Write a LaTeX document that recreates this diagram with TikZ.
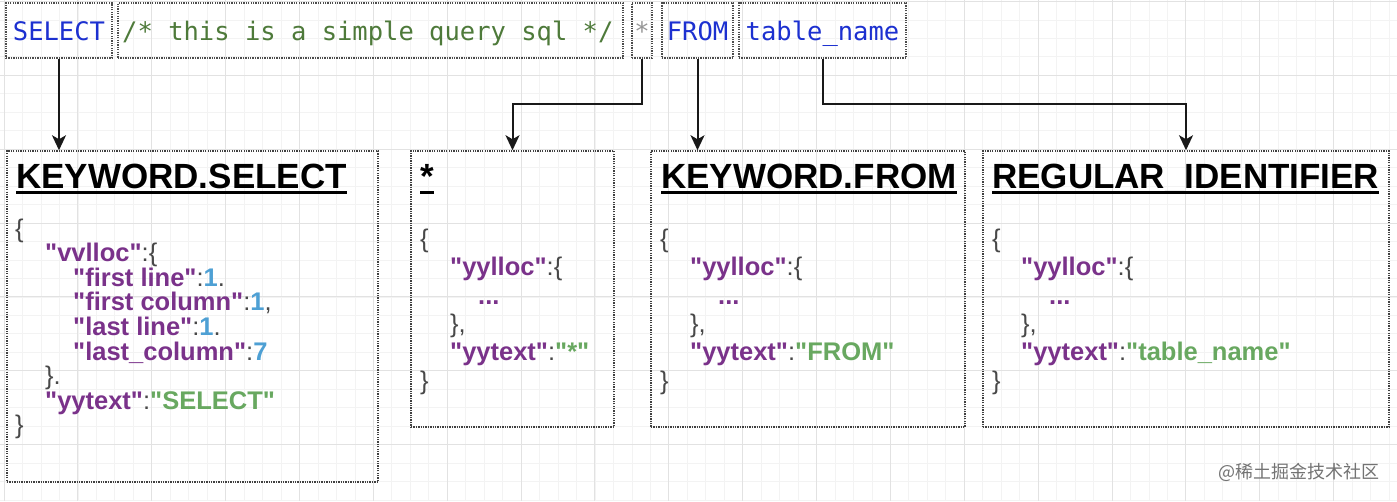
\documentclass[tikz,border=0pt]{standalone}
\usepackage{fontspec}
\setmainfont{Liberation Sans}
\setmonofont{DejaVu Sans Mono}
\newfontfamily\jsonfont{Liberation Sans}
\newfontfamily\cjk{Noto Sans CJK SC}
\usetikzlibrary{arrows.meta}
\definecolor{keyc}{RGB}{122,50,138}
\definecolor{strc}{RGB}{104,168,96}
\definecolor{numc}{RGB}{78,160,212}
\definecolor{punc}{RGB}{72,72,72}
\definecolor{selc}{RGB}{28,48,208}
\definecolor{cmtc}{RGB}{78,122,58}
\definecolor{starc}{RGB}{150,150,150}
\definecolor{gmaj}{RGB}{226,226,226}
\definecolor{gmin}{RGB}{243,243,243}
\newcommand\us{\char"5F\relax}
\newcommand\qq{\char"22\relax}
\newcommand\jkey[1]{\textcolor{keyc}{\qq#1\qq}}
\newcommand\jpun[1]{\textcolor{punc}{\mdseries #1}}
\newcommand\jnum[1]{\textcolor{numc}{#1}}
\newcommand\jstr[1]{\textcolor{strc}{\qq#1\qq}}
\begin{document}
\begin{tikzpicture}[x=1pt,y=-1pt,
  tbox/.style={draw=black!70, dash pattern=on 1.3pt off 1.1pt, line width=1.4pt, inner sep=0},
  dbox/.style={draw=black!75, dash pattern=on 1.3pt off 1.1pt, line width=1.5pt, inner sep=0},
  tt/.style={font=\ttfamily\fontsize{25.5}{25.5}\selectfont, inner sep=0, anchor=base},
  ttl/.style={font=\bfseries\fontsize{35}{35}\selectfont, inner sep=0, anchor=base west},
  ln/.style={font=\jsonfont\bfseries\fontsize{25.5}{25.5}\selectfont, inner sep=0, anchor=base west},
  ul/.style={line width=2.8pt, black},
  arr/.style={draw=black!90, line width=2pt, -{Stealth[length=15pt,width=14pt,inset=4pt]}},
  majl/.style={draw=gmaj, line width=1pt},
  minl/.style={draw=gmin, line width=0.8pt}]
\useasboundingbox (0,0) rectangle (1397,501);
\fill[white] (0,0) rectangle (1397,501);
% grid
\foreach \i in {-4,...,76} { \draw[minl] ({4.1+\i*18.465},0) -- ++(0,501); }
\foreach \i in {-4,...,28} { \draw[minl] (0,{1.5+\i*18.465}) -- ++(1397,0); }
\foreach \i in {-1,...,19} { \draw[majl] ({4.1+\i*73.86},0) -- ++(0,501); }
\foreach \i in {0,...,7} { \draw[majl] (0,{1.5+\i*73.86}) -- ++(1397,0); }
% top boxes
\node[tbox, minimum width=106, minimum height=55] (sel) at (59,30.5) {};
\node[tbox, minimum width=505, minimum height=55] (cmt) at (370.5,30.5) {};
\node[tbox, minimum width=20, minimum height=55] (star) at (642,30.5) {};
\node[tbox, minimum width=71, minimum height=55] (from) at (697.5,30.5) {};
\node[tbox, minimum width=167, minimum height=55] (tn) at (822.5,30.5) {};
\node[tt, text=selc] (tsel) at (59,40) {SELECT};
\node[tt, text=cmtc, anchor=base west] (tcmt) at (122,40) {/* this is a simple query sql */};
\node[tt, text=starc] (tstar) at (642,40) {*};
\node[tt, text=selc] (tfrom) at (697.5,40) {FROM};
\node[tt, text=selc] (ttn) at (822.5,40) {table\us name};
% bottom boxes
\node[dbox, minimum width=371, minimum height=331] (b1) at (192.5,316.5) {};
\node[dbox, minimum width=203, minimum height=276] (b2) at (512.5,289) {};
\node[dbox, minimum width=314, minimum height=276] (b3) at (808,289) {};
\node[dbox, minimum width=406, minimum height=276] (b4) at (1186,289) {};
% connectors
\draw[arr] (sel.south) -- (sel.south |- b1.north);
\draw[arr] (star.south) -- ++(0,45) -| (b2.north);
\draw[arr] (from.south) -- (from.south |- b3.north);
\draw[arr] (tn.south) -- ++(0,45) -| (b4.north);
% box 1
\node[ttl] (t1) at (16,188) {KEYWORD.SELECT};
\draw[ul] ([yshift=-4.5pt]t1.base west) -- ([yshift=-4.5pt]t1.base east);
\node[ln] (a0) at (15,237) {\jpun{\{}};
\node[ln] (a1) at (45,261.6) {\jkey{vvlloc}\jpun{:\{}};
\node[ln] (a2) at (73,286.2) {\jkey{first line}\jpun{:}\jnum{1}\jpun{.}};
\node[ln] (a3) at (73,310.8) {\jkey{first column}\jpun{:}\jnum{1}\jpun{,}};
\node[ln] (a4) at (73,335.4) {\jkey{last line}\jpun{:}\jnum{1}\jpun{.}};
\node[ln] (a5) at (73,360) {\jkey{last\us column}\jpun{:}\jnum{7}};
\node[ln] (a6) at (45,384.6) {\jpun{\}.}};
\node[ln] (a7) at (45,409.2) {\jkey{yytext}\jpun{:}\jstr{SELECT}};
\node[ln] (a8) at (15,433.8) {\jpun{\}}};
% box 2
\node[ttl] (t2) at (420,188) {*};
\draw[ul] ([yshift=-4.5pt]t2.base west) -- ([yshift=-4.5pt]t2.base east);
\node[ln] (c0) at (420,247.5) {\jpun{\{}};
\node[ln] (c1) at (450,275.8) {\jkey{yylloc}\jpun{:\{}};
\node[ln, text=keyc] (c2) at (478,304.1) {...};
\node[ln] (c3) at (450,332.4) {\jpun{\},}};
\node[ln] (c4) at (450,360.7) {\jkey{yytext}\jpun{:}\jstr{*}};
\node[ln] (c5) at (420,389) {\jpun{\}}};
% box 3
\node[ttl] (t3) at (661,188) {KEYWORD.FROM};
\draw[ul] ([yshift=-4.5pt]t3.base west) -- ([yshift=-4.5pt]t3.base east);
\node[ln] (d0) at (660,247.5) {\jpun{\{}};
\node[ln] (d1) at (690,275.8) {\jkey{yylloc}\jpun{:\{}};
\node[ln, text=keyc] (d2) at (718,304.1) {...};
\node[ln] (d3) at (690,332.4) {\jpun{\},}};
\node[ln] (d4) at (690,360.7) {\jkey{yytext}\jpun{:}\jstr{FROM}};
\node[ln] (d5) at (660,389) {\jpun{\}}};
% box 4
\node[ttl] (t4) at (992,188) {REGULAR\us IDENTIFIER};
\draw[ul] ([yshift=-4.5pt]t4.base west) -- ([yshift=-4.5pt]t4.base east);
\node[ln] (e0) at (992,247.5) {\jpun{\{}};
\node[ln] (e1) at (1021,275.8) {\jkey{yylloc}\jpun{:\{}};
\node[ln, text=keyc] (e2) at (1049,304.1) {...};
\node[ln] (e3) at (1021,332.4) {\jpun{\},}};
\node[ln] (e4) at (1021,360.7) {\jkey{yytext}\jpun{:}\jstr{table\us name}};
\node[ln] (e5) at (992,389) {\jpun{\}}};
% site mark
\node[font=\cjk\fontsize{18}{18}\selectfont, text=black!55, anchor=base east, inner sep=0] (site) at (1380,478) {@稀土掘金技术社区};
\end{tikzpicture}
\end{document}
